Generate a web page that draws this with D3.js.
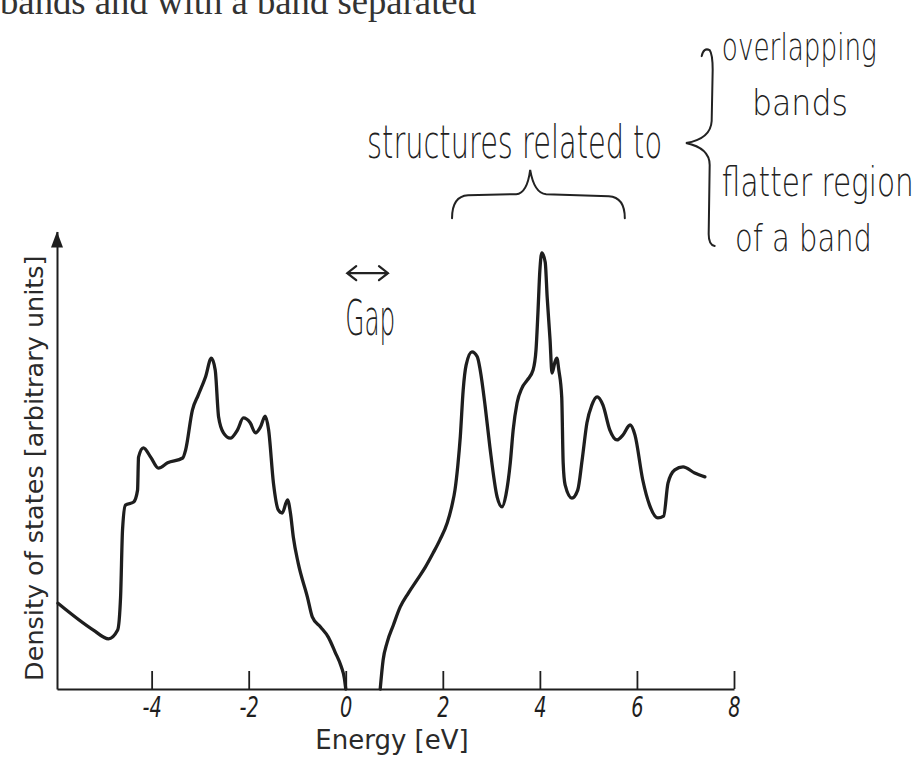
<!DOCTYPE html>
<html>
<head>
<meta charset="utf-8">
<script src="https://cdn.jsdelivr.net/npm/d3@7"></script>
<style>
  html, body { margin: 0; padding: 0; background: #fff; }
  svg { display: block; }
</style>
</head>
<body>
<svg id="chart" width="923" height="757"></svg>
<script>
// ── Data ─────────────────────────────────────────────────────────────────────
// valence band (ends at E = 0)
const valenceEnergy = [-5.93, -5.20, -4.89, -4.70, -4.64, -4.60, -4.54, -4.37, -4.29, -4.27,
  -4.17, -4.02, -3.86, -3.67, -3.36, -3.30, -3.16, -3.04, -2.89, -2.77, -2.69, -2.62, -2.52,
  -2.38, -2.23, -2.11, -1.97, -1.86, -1.76, -1.66, -1.59, -1.49, -1.39, -1.31, -1.20, -1.14,
  -1.08, -0.98, -0.79, -0.69, -0.52, -0.36, -0.22, -0.09, -0.03, 0];
const valenceDos = [1.95, 1.34, 1.14, 1.34, 2.09, 3.61, 4.18, 4.25, 4.52, 5.27,
  5.48, 5.27, 5.02, 5.14, 5.25, 5.43, 6.34, 6.68, 7.09, 7.52, 7.25, 6.18, 5.82,
  5.70, 5.89, 6.16, 6.05, 5.82, 5.95, 6.20, 5.89, 4.68, 4.07, 4.00, 4.30, 4.00,
  3.45, 2.86, 2.09, 1.64, 1.41, 1.18, 0.84, 0.50, 0.25, 0];

// conduction band (starts at E ≈ 0.7)
const conductionEnergy = [0.71, 0.77, 0.85, 0.98, 1.12, 1.29, 1.47, 1.64, 1.80, 1.94,
  2.09, 2.19, 2.25, 2.31, 2.36, 2.42, 2.48, 2.60, 2.71, 2.77, 2.87, 2.97, 3.12, 3.22,
  3.30, 3.39, 3.45, 3.53, 3.63, 3.74, 3.86, 3.92, 3.96, 4.00, 4.04, 4.11, 4.15, 4.21,
  4.25, 4.31, 4.35, 4.39, 4.45, 4.48, 4.52, 4.66, 4.78, 4.87, 4.97, 5.07, 5.18, 5.30,
  5.44, 5.59, 5.71, 5.86, 5.96, 6.12, 6.26, 6.43, 6.55, 6.64, 6.78, 6.95, 7.19, 7.40];
const conductionDos = [0, 0.66, 1.05, 1.45, 1.86, 2.18, 2.48, 2.77, 3.09, 3.39,
  3.77, 4.18, 4.52, 5.09, 5.73, 6.80, 7.36, 7.66, 7.55, 7.25, 6.45, 5.50, 4.36, 4.14,
  4.41, 5.14, 5.89, 6.50, 6.84, 7.02, 7.25, 7.70, 8.55, 9.52, 9.91, 9.70, 8.91, 7.93,
  7.18, 7.43, 7.52, 7.25, 6.64, 5.14, 4.64, 4.34, 4.52, 5.20, 6.05, 6.45, 6.64, 6.45,
  5.89, 5.66, 5.77, 6.00, 5.77, 4.75, 4.18, 3.89, 3.93, 4.68, 4.98, 5.05, 4.91, 4.82];

const energyTicks = [-4, -2, 0, 2, 4, 6, 8];
const energyDomain = [-5.95, 8];
const dosDomain = [0, 10.4];

const xLabel = "Energy [eV]";
const yLabel = "Density of states [arbitrary units]";
const pageText = "bands and with a band separated";

// handwritten notes: text, anchor energy, anchor dos (baseline), width px, font px
const notes = [
  { text: "structures related to", e: 0.44, v: 12.07, w: 295, fs: 46 },
  { text: "overlapping",            e: 7.75, v: 14.30, w: 155, fs: 38 },
  { text: "bands",                  e: 8.37, v: 13.05, w: 96,  fs: 36 },
  { text: "flatter region",         e: 7.75, v: 11.20, w: 192, fs: 40 },
  { text: "of a band",              e: 8.02, v: 9.95,  w: 137, fs: 38 },
  { text: "Gap",                    e: -0.01, v: 8.05, w: 50,  fs: 50 }
];
const gapArrow = { e0: 0.03, e1: 0.87, v: 9.45 };
const braceUnder = { e0: 2.19, eTip: 3.80, e1: 5.75, vEnd: 10.70, vRail: 11.20, vTip: 11.80 };
const braceSide  = { eRail: 7.54, eTip: 7.01, vTop: 14.52, vTip: 12.41, vBottom: 10.07 };

// ── Chart ────────────────────────────────────────────────────────────────────
const svg = d3.select("#chart");
const ink = "#1e1e1e";
const handFont = "'DejaVu Sans', 'Open Sans', sans-serif";

const x = d3.scaleLinear().domain(energyDomain).range([57, 734]);
const y = d3.scaleLinear().domain(dosDomain).range([689, 231.4]);

// page text cut at the top of the scan
svg.append("text")
  .attr("x", 0).attr("y", 14)
  .attr("textLength", 476).attr("lengthAdjust", "spacingAndGlyphs")
  .attr("font-family", "'Liberation Serif', 'DejaVu Serif', serif")
  .attr("font-size", 37).attr("fill", "#333")
  .text(pageText);

// x axis, ticks pointing up into the plot
const xAxis = svg.append("g")
  .attr("transform", `translate(0,${y(0)})`)
  .call(d3.axisBottom(x).tickValues(energyTicks)
    .tickSizeInner(-18).tickSizeOuter(0).tickPadding(7)
    .tickFormat(d => String(d)));
xAxis.select(".domain").attr("stroke", ink).attr("stroke-width", 2);
xAxis.selectAll(".tick line").attr("stroke", ink).attr("stroke-width", 1.8);
xAxis.selectAll(".tick text")
  .attr("fill", ink)
  .attr("font-family", "'DejaVu Sans Condensed', 'DejaVu Sans', sans-serif")
  .attr("font-stretch", "condensed")
  .attr("font-style", "oblique")
  .attr("font-size", 29)
  .attr("transform", "scale(0.74,1)");

// y axis with arrow head, no ticks
const yAxis = svg.append("g")
  .attr("transform", `translate(${x(energyDomain[0])},0)`)
  .call(d3.axisLeft(y).tickValues([]).tickSizeOuter(0));
yAxis.select(".domain").attr("stroke", ink).attr("stroke-width", 2);
const tipY = y(dosDomain[1]);
yAxis.append("path")
  .attr("d", `M0,${tipY} L6,${tipY + 16} L-6,${tipY + 16} Z`)
  .attr("fill", ink);

// axis titles
svg.append("text")
  .attr("transform", `translate(43,${(y(0) + tipY) / 2 + 8}) rotate(-90)`)
  .attr("text-anchor", "middle")
  .attr("font-family", "'DejaVu Sans', sans-serif")
  .attr("font-size", 25.5).attr("fill", "#2a2a2a")
  .text(yLabel);
svg.append("text")
  .attr("x", 392).attr("y", 749)
  .attr("text-anchor", "middle")
  .attr("font-family", "'DejaVu Sans', sans-serif")
  .attr("font-size", 26).attr("fill", "#2a2a2a")
  .text(xLabel);

// density of states curves
const line = d3.line()
  .x(d => x(d[0])).y(d => y(d[1]))
  .curve(d3.curveMonotoneX);

[[valenceEnergy, valenceDos], [conductionEnergy, conductionDos]].forEach(([es, vs]) => {
  svg.append("path")
    .datum(es.map((e, i) => [e, vs[i]]))
    .attr("fill", "none")
    .attr("stroke", ink)
    .attr("stroke-width", 3.3)
    .attr("stroke-linejoin", "round")
    .attr("stroke-linecap", "round")
    .attr("d", line);
});

// ── Handwritten annotations ──────────────────────────────────────────────────
const ann = svg.append("g")
  .attr("fill", "none").attr("stroke", "#222")
  .attr("stroke-width", 2).attr("stroke-linecap", "round");

// narrow, upright "pen" lettering: squeeze each note to its measured width
notes.forEach(n => {
  const t = svg.append("text")
    .attr("font-family", handFont)
    .attr("font-weight", 200)
    .attr("font-size", n.fs)
    .attr("fill", "#222")
    .text(n.text);
  const sx = n.w / t.node().getComputedTextLength();
  t.attr("transform", `translate(${x(n.e)},${y(n.v)}) scale(${sx},1)`);
});

// gap arrow
{
  const x0 = x(gapArrow.e0), x1 = x(gapArrow.e1), ya = y(gapArrow.v);
  ann.append("path")
    .attr("d", `M${x0},${ya} L${x1},${ya}
                M${x0 + 9},${ya - 7} L${x0},${ya} L${x0 + 9},${ya + 7}
                M${x1 - 9},${ya - 7} L${x1},${ya} L${x1 - 9},${ya + 7}`)
    .attr("stroke-width", 2.2);
}

// brace under "structures related to", tip up
{
  const b = braceUnder;
  const x0 = x(b.e0), xm = x(b.eTip), x1 = x(b.e1);
  const yEnd = y(b.vEnd), yRail = y(b.vRail), yTip = y(b.vTip);
  ann.append("path").attr("d",
    `M${x0},${yEnd} Q${x0},${yRail} ${x0 + 16},${yRail - 1}
     L${xm - 14},${yRail - 2} Q${xm - 3},${yRail - 3} ${xm},${yTip}
     Q${xm + 4},${yRail - 3} ${xm + 16},${yRail - 2}
     L${x1 - 16},${yRail} Q${x1},${yRail + 1} ${x1},${yEnd}`);
}

// brace at the right, tip pointing left
{
  const b = braceSide;
  const rx = x(b.eRail), tx = x(b.eTip);
  const yt = y(b.vTop), ym = y(b.vTip), yb = y(b.vBottom);
  ann.append("path").attr("d",
    `M${rx - 10},${yt + 6} Q${rx - 8},${yt - 3} ${rx - 2},${yt}
     Q${rx + 1},${yt + 4} ${rx + 1},${yt + 20}
     L${rx},${ym - 22} Q${rx - 1},${ym - 4} ${tx},${ym}
     Q${rx - 2},${ym + 5} ${rx - 2},${ym + 22}
     L${rx - 3},${yb - 12} Q${rx - 3},${yb - 1} ${rx + 3},${yb}`);
}
</script>
</body>
</html>
